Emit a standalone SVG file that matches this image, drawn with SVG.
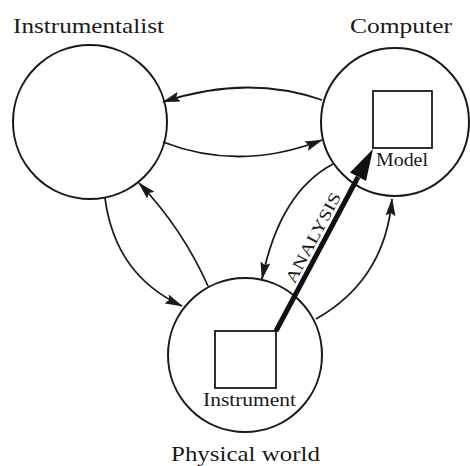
<svg xmlns="http://www.w3.org/2000/svg" width="470" height="466" viewBox="0 0 470 466">
<defs>
<style>
.node{fill:none;stroke:#1a1a1a;stroke-width:2}
.box{fill:none;stroke:#1a1a1a;stroke-width:1.8}
.conn{fill:none;stroke:#1a1a1a;stroke-width:1.8}
.lbl{font-family:"Liberation Serif","Times New Roman",serif;fill:#1a1a1a}
.big{font-size:22px}
.small{font-size:19px}
</style>
<marker id="ah" viewBox="0 0 18 10" refX="17" refY="5" markerWidth="18" markerHeight="10" markerUnits="userSpaceOnUse" orient="auto">
<path d="M0,0 L18,5 L0,10 L3,5 z" fill="#1a1a1a"/>
</marker>
</defs>
<rect width="470" height="466" fill="#ffffff"/>

<g id="instrumentalist">
<circle class="node" cx="90" cy="122" r="77"/>
<text class="lbl big" x="13" y="33" textLength="151" lengthAdjust="spacingAndGlyphs">Instrumentalist</text>
</g>

<g id="computer">
<circle class="node" cx="395" cy="122" r="74"/>
<text class="lbl big" x="350" y="33" textLength="102" lengthAdjust="spacingAndGlyphs">Computer</text>
<rect class="box" x="373" y="91" width="59" height="57"/>
<text class="lbl small" x="376" y="166" textLength="52" lengthAdjust="spacingAndGlyphs">Model</text>
</g>

<g id="physical-world">
<circle class="node" cx="245" cy="355" r="77"/>
<text class="lbl big" x="171" y="461" textLength="149" lengthAdjust="spacingAndGlyphs">Physical world</text>
<rect class="box" x="215" y="331" width="61" height="57"/>
<text class="lbl small" x="203" y="406" textLength="93" lengthAdjust="spacingAndGlyphs">Instrument</text>
</g>

<g id="connectors">
<path class="conn" d="M322,100 Q247,74 163,102" marker-end="url(#ah)"/>
<path class="conn" d="M163,142 Q240,172 322,140" marker-end="url(#ah)"/>
<path class="conn" d="M105,198 Q115,275 182,306" marker-end="url(#ah)"/>
<path class="conn" d="M208,286 Q182,228 139,183" marker-end="url(#ah)"/>
<path class="conn" d="M333,164 Q280,192 262,279" marker-end="url(#ah)"/>
<path class="conn" d="M316,319 Q385,280 392,199" marker-end="url(#ah)"/>
<g id="analysis">
<line x1="276" y1="331" x2="358" y2="177" stroke="#111" stroke-width="5"/>
<polygon points="373,149 350,172.5 366,181" fill="#111"/>
<text class="lbl" font-size="16.5" transform="translate(294.4,284.4) rotate(-61.9)" textLength="100" lengthAdjust="spacingAndGlyphs">ANALYSIS</text>
</g>
</g>
</svg>
